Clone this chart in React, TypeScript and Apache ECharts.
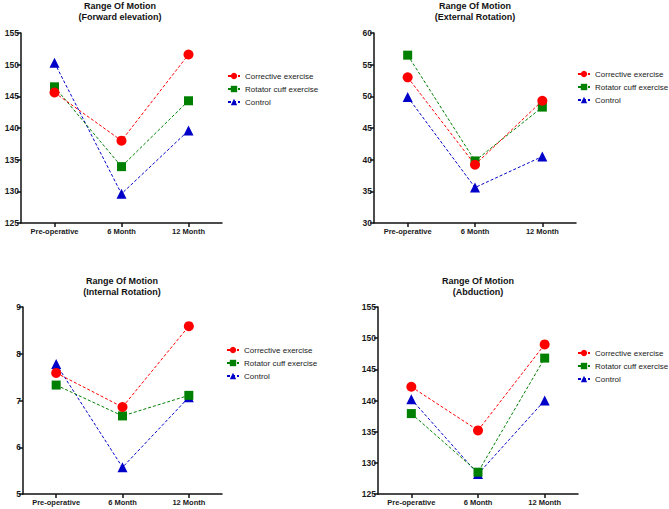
import React, { useEffect, useRef } from "react";
import * as echarts from "echarts";

const categories = ["Pre-operative", "6 Month", "12 Month"];
const seriesNames = ["Corrective exercise", "Rotator cuff exercise", "Control"];

const forwardCorrective = [145.6, 138.0, 151.6];
const forwardRotator = [146.5, 133.9, 144.3];
const forwardControl = [150.3, 129.6, 139.6];

const externalCorrective = [53.0, 39.2, 49.3];
const externalRotator = [56.5, 39.8, 48.3];
const externalControl = [49.9, 35.6, 40.5];

const internalCorrective = [7.59, 6.86, 8.59];
const internalRotator = [7.33, 6.67, 7.11];
const internalControl = [7.78, 5.57, 7.07];

const abductionCorrective = [142.2, 135.2, 149.0];
const abductionRotator = [137.9, 128.5, 146.8];
const abductionControl = [140.2, 128.2, 140.0];

const panelTitles = [
  "Range Of Motion\n(Forward elevation)",
  "Range Of Motion\n(External Rotation)",
  "Range Of Motion\n(Internal Rotation)",
  "Range Of Motion\n(Abduction)",
];

const yRanges = [
  { min: 125, max: 155, interval: 5 },
  { min: 30, max: 60, interval: 5 },
  { min: 5, max: 9, interval: 1 },
  { min: 125, max: 155, interval: 5 },
];

const panelData = [
  [forwardCorrective, forwardRotator, forwardControl],
  [externalCorrective, externalRotator, externalControl],
  [internalCorrective, internalRotator, internalControl],
  [abductionCorrective, abductionRotator, abductionControl],
];

const COLORS = ["#ff0000", "#008000", "#0000c8"];
const SYMBOLS = ["circle", "rect", "triangle"];
const SIZES = [10, 9, 10];

const grids = [
  { left: 21, top: 33, width: 201, height: 190 },
  { left: 374, top: 33, width: 202, height: 190 },
  { left: 23, top: 307, width: 199, height: 187 },
  { left: 378, top: 307, width: 200, height: 187 },
];

const titlePos = [
  { x: 120, y: 0.5 },
  { x: 475, y: 0.5 },
  { x: 122, y: 275 },
  { x: 478, y: 275 },
];

const legendPos = [
  { left: 227, top: 72 },
  { left: 577, top: 70 },
  { left: 226, top: 346 },
  { left: 577, top: 349 },
];

export default function App() {
  const ref = useRef<HTMLDivElement>(null);

  useEffect(() => {
    if (!ref.current) return;
    const chart = echarts.init(ref.current, null, { renderer: "svg" });

    const axisLine = { show: true, lineStyle: { color: "#111", width: 1.5 } };
    const axisTick = { show: true, length: 4, lineStyle: { color: "#111", width: 1.5 } };

    const xAxis = grids.map((_, i) => ({
      type: "category",
      gridIndex: i,
      data: categories,
      boundaryGap: true,
      axisLine,
      axisTick: { ...axisTick, alignWithLabel: true },
      axisLabel: {
        fontSize: 7.5,
        fontWeight: "bold",
        color: "#1a1a1a",
        fontFamily: "Liberation Sans",
        margin: 4,
      },
      splitLine: { show: false },
    }));

    const yAxis = grids.map((_, i) => ({
      type: "value",
      gridIndex: i,
      min: yRanges[i].min,
      max: yRanges[i].max,
      interval: yRanges[i].interval,
      axisLine,
      axisTick,
      axisLabel: {
        fontSize: 8.5,
        fontWeight: "bold",
        color: "#1a1a1a",
        fontFamily: "Liberation Sans",
        margin: 2,
      },
      splitLine: { show: false },
    }));

    const series: any[] = [];
    panelData.forEach((group, p) => {
      // draw order: control at bottom, corrective on top
      [2, 1, 0].forEach((s) => {
        series.push({
          type: "line",
          name: seriesNames[s],
          xAxisIndex: p,
          yAxisIndex: p,
          data: group[s],
          symbol: SYMBOLS[s],
          symbolSize: SIZES[s],
          itemStyle: { color: COLORS[s] },
          lineStyle: { color: COLORS[s], width: 1, type: [3, 2] },
          z: 2 + (2 - s),
        });
      });
    });

    chart.setOption({
      animation: false,
      textStyle: { fontFamily: "Liberation Sans" },
      title: titlePos.map((t, i) => ({
        text: panelTitles[i],
        left: t.x,
        top: t.y,
        textAlign: "center",
        padding: 0,
        textStyle: {
          fontSize: 9,
          fontWeight: "bold",
          lineHeight: 11,
          color: "#111",
          fontFamily: "Liberation Sans",
        },
      })),
      legend: legendPos.map((l) => ({
        data: seriesNames,
        orient: "vertical",
        left: l.left,
        top: l.top,
        padding: 0,
        itemWidth: 12,
        itemHeight: 8,
        itemGap: 5,
        selectedMode: false,
        textStyle: {
          fontSize: 8,
          color: "#222",
          fontFamily: "Liberation Sans",
        },
      })),
      grid: grids,
      xAxis,
      yAxis,
      series,
    });

    return () => {
      chart.dispose();
    };
  }, []);

  return (
    <div
      ref={ref}
      style={{ position: "fixed", left: 0, top: 0, width: 669, height: 509, background: "#fff" }}
    />
  );
}
